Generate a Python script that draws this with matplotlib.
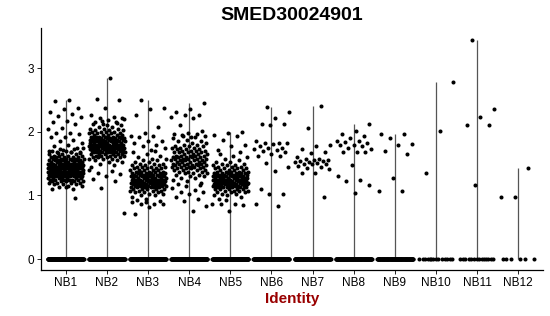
import numpy as np
import matplotlib
matplotlib.use('Agg')
import matplotlib.pyplot as plt

plt.rcParams['font.family'] = ['Liberation Sans', 'DejaVu Sans']

groups = ['NB1', 'NB2', 'NB3', 'NB4', 'NB5', 'NB6', 'NB7', 'NB8', 'NB9', 'NB10', 'NB11', 'NB12']

# number of cells with zero expression per group
zero_counts = [150, 150, 150, 150, 150, 140, 140, 130, 120, 14, 14, 6]

# dense cores of the big groups: expression levels and how many cells sit there
nb1_levels = [1.10, 1.125, 1.15, 1.175, 1.20, 1.225, 1.25, 1.275, 1.30, 1.325, 1.35, 1.375,
              1.40, 1.425, 1.45, 1.475, 1.50, 1.525, 1.55, 1.575, 1.60, 1.625, 1.65, 1.675,
              1.70, 1.725, 1.75]
nb1_counts = [1, 1, 2, 3, 4, 5, 6, 7, 8, 9, 10, 11, 11, 11, 11, 10, 9, 8, 7, 6, 5, 4, 3, 3,
              2, 2, 1]
nb1_other = [2.50, 2.48, 2.38, 2.36, 2.31, 2.28, 2.25, 2.24, 2.17, 2.16, 2.13, 2.06, 2.05,
             1.98, 1.98, 1.97, 1.92, 1.92, 1.87, 1.86, 1.82, 1.80, 1.77, 1.75, 1.72, 1.70,
             1.68, 1.66, 1.66, 1.13, 1.10, 0.96]

nb2_levels = [1.45, 1.475, 1.50, 1.525, 1.55, 1.575, 1.60, 1.625, 1.65, 1.675, 1.70, 1.725,
              1.75, 1.775, 1.80, 1.825, 1.85, 1.875, 1.90, 1.925, 1.95, 1.975, 2.00, 2.025,
              2.05, 2.075, 2.10, 2.125, 2.15, 2.175, 2.20]
nb2_counts = [1, 1, 1, 2, 2, 3, 4, 5, 6, 7, 8, 8, 9, 9, 9, 9, 8, 8, 7, 6, 5, 4, 4, 3, 3, 2,
              2, 1, 1, 1, 1]
nb2_other = [2.85, 2.51, 2.50, 2.38, 2.27, 2.23, 2.22, 2.21, 2.19, 2.16, 2.14, 2.12,
             1.40, 1.38, 1.35, 1.33, 1.30, 1.26, 1.22, 1.12, 0.72]

nb3_levels = [0.95, 0.975, 1.00, 1.025, 1.05, 1.075, 1.10, 1.125, 1.15, 1.175, 1.20, 1.225,
              1.25, 1.275, 1.30, 1.325, 1.35, 1.375, 1.40, 1.425, 1.45, 1.475, 1.50, 1.525,
              1.55, 1.575, 1.60, 1.625, 1.65, 1.675, 1.70]
nb3_counts = [1, 1, 2, 2, 3, 4, 5, 6, 7, 8, 8, 8, 8, 8, 7, 7, 6, 5, 5, 4, 4, 3, 3, 2, 2, 2,
              1, 1, 1, 1, 1]
nb3_other = [2.50, 2.38, 2.36, 2.26, 2.07, 1.98, 1.94, 1.94, 1.92, 1.86, 1.85, 1.82, 1.80,
             1.78, 1.75, 1.72, 0.93, 0.92, 0.90, 0.89, 0.87, 0.87, 0.86, 0.82, 0.70]

nb4_levels = [1.20, 1.225, 1.25, 1.275, 1.30, 1.325, 1.35, 1.375, 1.40, 1.425, 1.45, 1.475,
              1.50, 1.525, 1.55, 1.575, 1.60, 1.625, 1.65, 1.675, 1.70, 1.725, 1.75, 1.775,
              1.80, 1.825, 1.85, 1.875, 1.90, 1.925, 1.95]
nb4_counts = [1, 1, 1, 2, 2, 2, 3, 3, 4, 4, 5, 5, 5, 5, 5, 5, 5, 5, 4, 4, 4, 3, 3, 3, 2, 2,
              2, 1, 1, 1, 1]
nb4_other = [2.45, 2.36, 2.31, 2.27, 2.26, 2.23, 2.21, 2.10, 2.02, 1.98, 1.97, 1.97, 1.93,
             1.93, 1.92, 1.18, 1.17, 1.15, 1.12, 1.09, 1.06, 1.05, 1.03, 0.97, 0.94, 0.92,
             0.84, 0.76]

nb5_levels = [0.95, 0.975, 1.00, 1.025, 1.05, 1.075, 1.10, 1.125, 1.15, 1.175, 1.20, 1.225,
              1.25, 1.275, 1.30, 1.325, 1.35, 1.375, 1.40, 1.425, 1.45, 1.475, 1.50, 1.525,
              1.55, 1.575, 1.60, 1.625, 1.65]
nb5_counts = [1, 1, 2, 2, 3, 4, 5, 6, 7, 8, 9, 9, 9, 9, 8, 7, 6, 5, 4, 4, 3, 3, 2, 2, 1, 1,
              1, 1, 1]
nb5_other = [2.00, 1.98, 1.95, 1.93, 1.87, 1.80, 1.78, 1.72, 1.68, 0.93, 0.87, 0.86, 0.86,
             0.85, 0.76]

# sparse groups: every non-zero cell
nb6_vals = [2.39, 2.31, 2.22, 2.13, 2.13, 2.10, 1.85, 1.83, 1.83, 1.82, 1.81, 1.77, 1.75,
            1.75, 1.73, 1.72, 1.70, 1.68, 1.65, 1.62, 1.62, 1.51, 1.44, 1.39, 1.10, 1.02,
            1.02, 0.87, 0.83]
nb7_vals = [2.40, 2.06, 1.80, 1.77, 1.73, 1.69, 1.67, 1.60, 1.58, 1.57, 1.56, 1.55, 1.54,
            1.54, 1.53, 1.52, 1.51, 1.50, 1.50, 1.49, 1.46, 1.44, 1.43, 1.41, 1.35, 1.35,
            0.98]
nb8_vals = [2.12, 2.01, 1.96, 1.93, 1.90, 1.86, 1.85, 1.84, 1.83, 1.80, 1.79, 1.77, 1.75,
            1.73, 1.68, 1.68, 1.68, 1.48, 1.31, 1.24, 1.23, 1.16, 1.04]
nb9_vals = [1.97, 1.97, 1.91, 1.81, 1.80, 1.70, 1.65, 1.27, 1.07, 1.07]
nb10_vals = [2.79, 2.01, 1.35]
nb11_vals = [3.45, 2.36, 2.24, 2.11, 2.10, 1.16]
nb12_vals = [1.43, 0.98, 0.97]

nonzero = [
    list(np.repeat(nb1_levels, nb1_counts)) + nb1_other,
    list(np.repeat(nb2_levels, nb2_counts)) + nb2_other,
    list(np.repeat(nb3_levels, nb3_counts)) + nb3_other,
    list(np.repeat(nb4_levels, nb4_counts)) + nb4_other,
    list(np.repeat(nb5_levels, nb5_counts)) + nb5_other,
    nb6_vals, nb7_vals, nb8_vals, nb9_vals, nb10_vals, nb11_vals, nb12_vals,
]

fig = plt.figure(figsize=(5.5, 3.16), dpi=100)
ax = fig.add_axes([41/550, 1-270/316, 502/550, 242/316])

golden = 0.6180339887
for i, g in enumerate(groups):
    pos = i + 1
    vals = np.array(list(np.zeros(zero_counts[i])) + list(nonzero[i]))
    # deterministic jitter, spread over +-0.44 of a slot
    k = np.arange(len(vals))
    frac = (k * golden + 0.37 * i) % 1.0
    xs = pos + (frac - 0.5) * 0.88
    ax.vlines(pos, 0, vals.max(), color='#555555', lw=0.9, zorder=1)
    ax.scatter(xs, vals, s=8.5, color='black', linewidths=0, zorder=2)

ax.set_xlim(0.4, 12.6)
ax.set_ylim(-0.173, 3.633)
ax.set_xticks(range(1, 13))
ax.set_xticklabels(groups)
ax.set_yticks([0, 1, 2, 3])
ax.tick_params(axis='both', labelsize=8.5, length=3, width=0.6, pad=2, colors='black')
for s in ['top', 'right']:
    ax.spines[s].set_visible(False)
for s in ['left', 'bottom']:
    ax.spines[s].set_linewidth(0.9)

fig.text(292/550, 1-16/316, 'SMED30024901', ha='center', va='center',
         fontsize=14, fontweight='bold')
fig.text(292/550, 1-299/316, 'Identity', ha='center', va='center',
         fontsize=11, fontweight='bold', color='#990000')

fig.savefig('out.png', dpi=100)
